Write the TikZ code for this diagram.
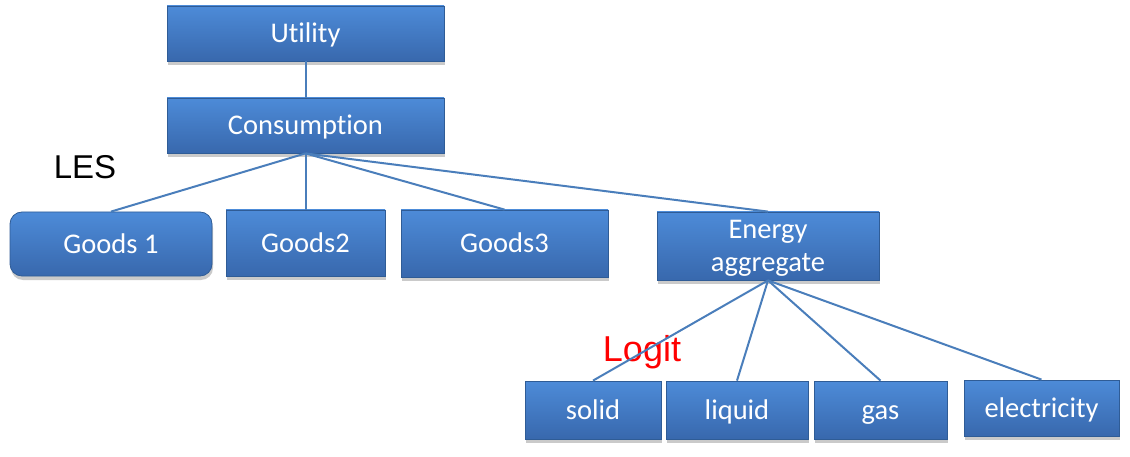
\documentclass[tikz,border=0pt]{standalone}
\usepackage{fontspec}
\setmainfont{Carlito}[Ligatures=NoCommon]
\newfontfamily\arialf{Liberation Sans}
\usetikzlibrary{shadows}
\definecolor{boxtop}{HTML}{4D8BD8}
\definecolor{boxbot}{HTML}{3868AD}
\definecolor{boxedge}{HTML}{2F5C96}
\definecolor{linkc}{HTML}{4A7EBB}
\definecolor{logitred}{HTML}{FF0000}
\tikzset{
  bluebox/.style={rectangle, draw=boxedge, line width=0.8pt,
    top color=boxtop, bottom color=boxbot, text=white,
    inner sep=0pt, align=center,
    font=\fontsize{28.5}{33}\selectfont, text depth=0pt, text height=18.4pt,
    drop shadow={opacity=0.35, shadow xshift=1pt, shadow yshift=-4pt, fill=black!60}},
  link/.style={draw=linkc, line width=2pt},
}
\begin{document}
\begin{tikzpicture}[x=1pt,y=-1pt]
\useasboundingbox (0,0) rectangle (1130,457);
\node[bluebox, minimum width=277pt, minimum height=55pt] (util) at (305.5,33.5) {Utility};
\node[bluebox, minimum width=277pt, minimum height=55pt] (cons) at (305.5,125.5) {Consumption};
\node[bluebox, rounded corners=12pt, minimum width=202pt, minimum height=64pt] (g1) at (111,244) {Goods 1};
\node[bluebox, minimum width=159pt, minimum height=66pt] (g2) at (305.5,243) {Goods2};
\node[bluebox, minimum width=207pt, minimum height=67pt] (g3) at (504.5,243.5) {Goods3};
\node[bluebox, minimum width=222pt, minimum height=68pt, text height=51.4pt] (en) at (768,246) {Energy\\aggregate};
\node[bluebox, minimum width=136pt, minimum height=58pt] (so) at (593,410) {solid};
\node[bluebox, minimum width=142pt, minimum height=58pt] (li) at (737,410) {liquid};
\node[bluebox, minimum width=133pt, minimum height=58pt] (ga) at (880.5,410) {gas};
\node[bluebox, minimum width=155pt, minimum height=56pt] (el) at (1041.5,408) {electricity};
\node[font=\arialf\fontsize{33}{36}\selectfont, text=black, anchor=base, inner sep=0pt] (les) at (85,179) {LES};
\node[font=\arialf\fontsize{36}{40}\selectfont, text=logitred, anchor=base, inner sep=0pt] (logit) at (642,361) {Logit};
\draw[link] (util.south) -- (cons.north);
\draw[link] (cons.south) -- (g1.north);
\draw[link] (cons.south) -- (g2.north);
\draw[link] (cons.south) -- (g3.north);
\draw[link] (cons.south) -- (en.north);
\draw[link] (en.south) -- (so.north);
\draw[link] (en.south) -- (li.north);
\draw[link] (en.south) -- (ga.north);
\draw[link] (en.south) -- (el.north);
\end{tikzpicture}
\end{document}
